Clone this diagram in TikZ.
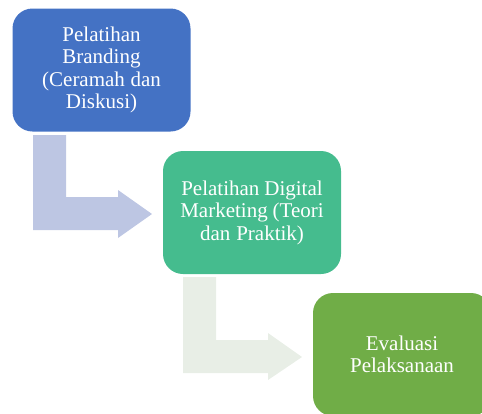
\documentclass[tikz,border=0pt]{standalone}
\usepackage{fontspec}
\setmainfont{Liberation Serif}
\definecolor{bBlue}{HTML}{4472C4}
\definecolor{bGreen}{HTML}{45BC8E}
\definecolor{bOlive}{HTML}{70AD47}
\definecolor{aBlue}{HTML}{BDC6E3}
\definecolor{aGrey}{HTML}{E8EEE6}
\newcommand\tightspaces{\spaceskip=0.2em plus 0.1em minus 0.05em\relax}
\tikzset{
  stepbox/.style={rounded corners=20pt, minimum width=178pt, minimum height=123pt,
    inner sep=0pt, text=white, align=center, font=\fontsize{21}{22.5}\selectfont,
    execute at begin node=\tightspaces, text width=172pt},
}
\begin{document}
\begin{tikzpicture}[x=1pt,y=-1pt]
\useasboundingbox (0,0) rectangle (482,413);
\clip (0,0) rectangle (482,413);
% arrows
\fill[aBlue] (33,135) -- (66,135) -- (66,197) -- (118,197) -- (118,190) -- (152,214)
  -- (118,238) -- (118,230) -- (33,230) -- cycle;
\fill[aGrey] (183,277) -- (216,277) -- (216,340) -- (268,340) -- (268,333) -- (302,357)
  -- (268,380) -- (268,373) -- (183,373) -- cycle;
% boxes
\node[stepbox, fill=bBlue] (b1) at (101.5,70) {Pelatihan\\Branding\\(Ceramah dan\\Diskusi)};
\node[stepbox, fill=bGreen] (b2) at (252,212.5) {Pelatihan Digital\\Marketing (Teori\\dan Praktik)};
\node[stepbox, fill=bOlive] (b3) at (402,354.5) {Evaluasi\\Pelaksanaan};
\end{tikzpicture}
\end{document}
